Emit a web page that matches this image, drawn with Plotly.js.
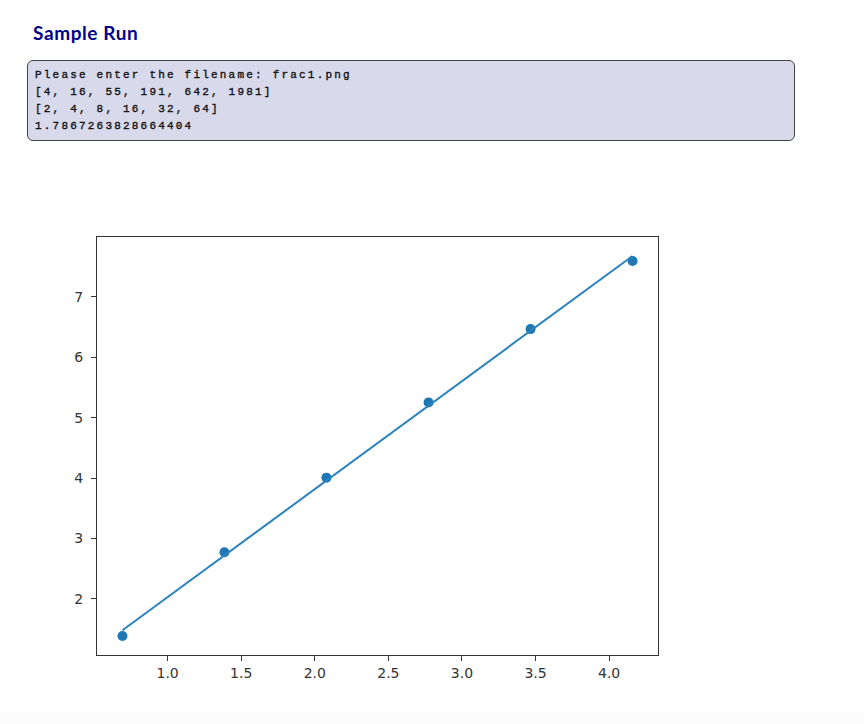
<!DOCTYPE html>
<html>
<head>
<meta charset="utf-8">
<script src="https://cdn.plot.ly/plotly-3.0.1.min.js"></script>
<style>
  html, body { margin:0; padding:0; background:#ffffff; width:864px; height:724px; overflow:hidden; }
  #title { position:absolute; left:33px; top:21px; font-family:Lato, "Open Sans", sans-serif; font-weight:700; font-size:19px; letter-spacing:0.6px; color:#00008b; z-index:2; }
  #console { position:absolute; left:27px; top:60px; width:766px; height:79px; background:#d9d9ec; border:1px solid #444; border-radius:6px; z-index:2; box-sizing:content-box; }
  #console pre { margin:0; padding:6px 0 0 7px; font-family:"Liberation Mono", "DejaVu Sans Mono", monospace; font-size:11px; letter-spacing:2.2px; line-height:17px; color:#111; -webkit-text-stroke:0.35px #111; }
  #chart { position:absolute; left:0; top:0; width:864px; height:724px; z-index:1; }
  #foot { position:absolute; left:0; top:712px; width:864px; height:12px; background:#fbfbfb; z-index:0; }
</style>
</head>
<body>
<div id="foot"></div>
<div id="chart"></div>
<div id="title">Sample Run</div>
<div id="console"><pre id="out"></pre></div>
<script>
// Console output lines
const consoleLines = [
  "Please enter the filename: frac1.png",
  "[4, 16, 55, 191, 642, 1981]",
  "[2, 4, 8, 16, 32, 64]",
  "1.7867263828664404"
];
// Scatter points (log box size, log count)
const xPoints = [0.693, 1.386, 2.079, 2.773, 3.466, 4.159];
const yPoints = [1.386, 2.773, 4.007, 5.252, 6.465, 7.591];
// Fitted line values at the same x positions
const yFit = [1.482, 2.720, 3.959, 5.200, 6.437, 7.675];
// Axis ticks
const xTicks = [1.0, 1.5, 2.0, 2.5, 3.0, 3.5, 4.0];
const xTickText = ["1.0", "1.5", "2.0", "2.5", "3.0", "3.5", "4.0"];
const yTicks = [2, 3, 4, 5, 6, 7];

document.getElementById("out").textContent = consoleLines.join("\n");

const tickFont = {family: "DejaVu Sans, sans-serif", size: 14, color: "#333333"};
const axisCommon = {
  showgrid: false, zeroline: false, showline: true, mirror: true,
  linecolor: "#333333", linewidth: 1, ticks: "outside", ticklen: 5,
  tickcolor: "#333333", tickwidth: 1, tickfont: tickFont
};

Plotly.newPlot("chart", [
  {x: xPoints, y: yPoints, type: "scatter", mode: "markers",
   marker: {color: "#1f77b4", size: 10}, hoverinfo: "skip"},
  {x: xPoints, y: yFit, type: "scatter", mode: "lines",
   line: {color: "#2a82bf", width: 2}, hoverinfo: "skip"}
], {
  width: 864, height: 724,
  margin: {l: 97, r: 206, t: 237, b: 69},
  paper_bgcolor: "rgba(0,0,0,0)", plot_bgcolor: "#ffffff",
  showlegend: false,
  xaxis: Object.assign({range: [0.52, 4.332], tickvals: xTicks, ticktext: xTickText}, axisCommon),
  yaxis: Object.assign({range: [1.072, 7.989], tickvals: yTicks, ticklabelstandoff: 5}, axisCommon)
}, {staticPlot: true, displayModeBar: false});
</script>
</body>
</html>
